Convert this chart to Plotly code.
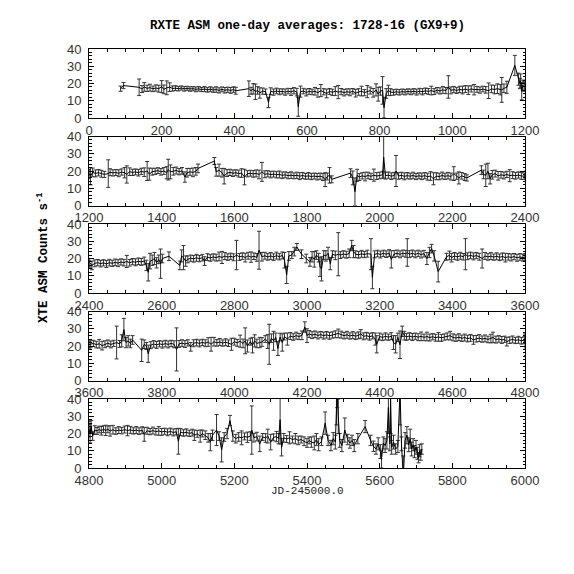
import plotly.graph_objects as go

# ---------------- data ----------------
day_1 = [87, 95, 138, 146, 152, 160, 168, 176, 184, 192, 200, 206, 214, 222, 230, 238, 246, 254, 262, 270,
         278, 286, 294, 302, 310, 318, 326, 334, 342, 350, 358, 366, 374, 382, 390, 398, 404,
         440, 446, 452, 458, 464, 470, 478, 486, 494, 500, 508, 516, 524, 532, 540, 548, 556, 564, 572, 576,
         582, 590, 598, 606, 614, 622, 630, 638, 646, 654, 662, 670, 678, 686, 694, 702, 710, 718, 726, 734,
         742, 750, 758, 766, 774, 782, 790, 796, 802, 808, 812, 818, 824, 830, 838, 846, 854, 862, 870, 878,
         886, 894, 902, 910, 918, 926, 934, 942, 950, 958, 966, 974, 982, 989, 996, 1004, 1012, 1020, 1028,
         1036, 1044, 1052, 1060, 1068, 1076, 1084, 1092, 1100, 1108, 1116, 1124, 1132, 1136, 1142, 1150,
         1172, 1182, 1186, 1188, 1191, 1194, 1198]
rate_1 = [17.0, 18.8, 17.8, 16.8, 18.0, 17.2, 17.6, 16.9, 17.4, 17.0, 18.2, 16.6, 17.5, 17.9, 17.1, 17.3, 17.0, 17.4, 16.9, 17.2,
          16.8, 17.0, 16.6, 16.9, 16.5, 16.8, 16.3, 16.7, 16.2, 16.5, 16.0, 16.6, 16.1, 16.4, 16.0, 16.5, 15.8,
          17.0, 15.8, 16.9, 15.2, 16.0, 14.5, 15.6, 15.2, 9.0, 15.5, 15.0, 15.7, 15.2, 15.4, 15.0, 15.6, 15.1, 15.8, 15.0, 6.5,
          15.3, 15.6, 14.8, 15.4, 15.1, 15.5, 14.6, 15.9, 15.2, 14.2, 15.4, 14.9, 15.6, 15.0, 15.3, 14.7, 15.2, 14.9, 15.5, 14.4,
          15.1, 15.6, 14.7, 15.3, 15.9, 14.6, 16.3, 13.8, 15.6, 16.0, 6.0, 14.2, 16.0, 15.0, 14.8, 15.2, 14.9, 15.3, 15.0, 15.4,
          15.1, 15.5, 15.0, 15.6, 15.2, 15.8, 15.4, 15.9, 15.3, 16.1, 15.7, 16.3, 15.9, 18.0, 16.0, 16.5, 15.9, 16.6, 16.2,
          16.8, 16.1, 16.9, 16.4, 16.6, 16.2, 16.8, 16.3, 15.8, 16.9, 16.5, 17.0, 16.4, 16.3, 17.2, 17.8,
          30.5, 22.5, 20.0, 21.5, 15.5, 19.0, 18.0]
err_1 = [1.5, 1.8, 4.8, 2.0, 2.5, 1.8, 2.0, 1.6, 1.8, 2.0, 3.5, 2.5, 4.0, 2.5, 1.5, 1.4, 1.3, 1.2, 1.3, 1.2,
         1.3, 1.2, 1.4, 1.3, 1.2, 1.5, 1.3, 1.4, 1.3, 1.6, 1.5, 1.4, 1.6, 1.5, 1.7, 1.6, 2.0,
         4.5, 2.0, 3.0, 4.5, 2.2, 3.0, 1.8, 1.6, 3.0, 2.0, 1.8, 1.6, 1.7, 1.5, 1.8, 1.6, 2.0, 1.8, 2.2, 5.5,
         3.2, 1.6, 2.0, 1.7, 1.6, 2.2, 2.5, 3.5, 1.8, 2.5, 1.7, 1.8, 2.6, 3.8, 1.8, 1.9, 1.7, 2.0, 1.6, 2.2,
         1.9, 2.8, 1.8, 3.5, 2.0, 2.5, 3.5, 4.0, 2.4, 8.0, 6.0, 2.8, 3.0, 2.0, 1.6, 1.5, 1.6, 1.5, 1.6, 1.5,
         1.6, 1.5, 1.7, 1.6, 1.8, 1.6, 1.7, 2.5, 1.7, 1.6, 1.8, 2.0, 1.8, 6.5, 2.0, 1.8, 1.7, 1.8, 2.2,
         2.0, 2.5, 1.8, 3.0, 1.7, 1.8, 1.6, 1.9, 4.5, 2.2, 2.5, 2.8, 3.0, 7.2, 2.5, 3.5,
         5.8, 3.5, 3.0, 4.0, 5.0, 3.0, 2.5]

day_2 = [1200, 1204, 1210, 1218, 1226, 1234, 1242, 1253, 1258, 1266, 1274, 1282, 1290, 1298, 1304, 1312, 1320,
         1328, 1336, 1344, 1352, 1360, 1366, 1374, 1382, 1390, 1398, 1406, 1414, 1418, 1424, 1432, 1440, 1448,
         1456, 1464, 1470, 1478, 1486, 1494, 1500, 1545, 1550, 1558, 1566, 1572, 1580, 1588, 1596, 1604, 1612,
         1620, 1628, 1636, 1644, 1652, 1660, 1668, 1676, 1684, 1692, 1700, 1708, 1716, 1724, 1732, 1740, 1748,
         1756, 1764, 1772, 1780, 1788, 1796, 1804, 1812, 1820, 1828, 1836, 1844, 1850, 1856, 1862, 1868,
         1920, 1926, 1932, 1938, 1944, 1952, 1960, 1968, 1976, 1984, 1992, 2000, 2008, 2011, 2016, 2024, 2032,
         2040, 2045, 2052, 2060, 2068, 2076, 2084, 2092, 2100, 2108, 2116, 2124, 2132, 2140, 2148, 2156, 2164,
         2172, 2180, 2188, 2196, 2204, 2212, 2218, 2226, 2234, 2240, 2280, 2286, 2292, 2298, 2304, 2310, 2318,
         2326, 2334, 2342, 2350, 2358, 2366, 2374, 2382, 2390, 2398]
rate_2 = [18.5, 17.0, 19.2, 18.6, 19.0, 18.4, 18.0, 18.5, 19.3, 18.9, 19.1, 18.7, 19.4, 19.0, 18.0, 19.6, 19.2,
          19.5, 19.0, 19.8, 19.3, 20.0, 18.2, 19.6, 19.8, 20.2, 19.5, 20.0, 19.0, 20.8, 19.5, 19.8, 20.3, 19.6,
          20.1, 16.5, 19.0, 19.5, 19.2, 19.8, 21.5, 25.8, 19.5, 20.5, 19.0, 17.0, 18.8, 19.2, 18.7, 19.0, 18.5,
          18.8, 16.5, 18.4, 18.7, 18.3, 18.6, 18.0, 19.5, 18.1, 18.4, 17.9, 18.2, 17.8, 18.0, 17.5, 17.8, 17.3,
          17.6, 17.2, 17.5, 17.0, 17.4, 16.9, 17.2, 16.8, 17.1, 16.7, 17.0, 16.5, 15.0, 16.8, 17.5, 15.2,
          18.8, 16.0, 8.0, 17.5, 16.5, 17.2, 16.8, 17.4, 16.9, 17.6, 17.1, 17.4, 17.8, 28.0, 17.3, 17.6, 17.0,
          17.4, 20.0, 17.1, 17.5, 16.9, 17.3, 17.0, 17.4, 16.8, 17.2, 16.9, 17.3, 16.7, 17.1, 15.5, 17.0, 16.8,
          17.4, 16.9, 17.3, 16.8, 18.5, 17.0, 16.0, 17.2, 16.5, 16.0, 20.5, 18.0, 17.5, 20.0, 15.5, 17.8, 18.5,
          17.2, 17.8, 17.4, 18.0, 17.3, 17.6, 17.2, 17.7, 17.1, 17.0]
err_2 = [2.5, 5.0, 2.5, 2.0, 1.8, 2.0, 1.8, 8.0, 2.0, 1.8, 1.7, 2.0, 1.8, 3.0, 5.0, 2.2, 1.8,
         1.7, 1.9, 1.8, 2.5, 5.5, 3.5, 2.0, 1.8, 1.7, 1.9, 2.0, 3.5, 6.0, 4.0, 2.2, 2.0, 1.8,
         1.9, 3.0, 2.5, 2.0, 2.5, 2.2, 2.5, 2.0, 2.5, 3.5, 2.5, 4.5, 2.0, 1.8, 1.9, 1.7, 2.0,
         2.5, 4.5, 1.8, 1.7, 1.9, 2.0, 2.5, 5.5, 2.0, 1.8, 1.9, 1.7, 1.8, 2.0, 1.9, 1.7, 1.8,
         1.9, 1.7, 1.8, 2.0, 1.8, 1.7, 1.9, 1.8, 1.7, 1.9, 1.8, 2.0, 4.0, 2.0, 4.5, 2.0,
         2.5, 4.0, 8.0, 3.5, 2.0, 1.8, 2.5, 1.9, 1.8, 3.5, 2.0, 1.9, 2.0, 12.0, 2.0, 1.8, 1.9,
         1.8, 9.0, 1.9, 1.8, 2.0, 1.8, 1.7, 1.9, 1.8, 1.7, 1.9, 1.8, 2.0, 2.5, 3.5, 2.0, 1.9,
         2.0, 1.8, 1.9, 2.0, 4.0, 1.8, 3.5, 1.9, 2.0, 1.8, 2.5, 2.5, 6.5, 4.5, 3.0, 2.5, 2.0,
         2.5, 1.9, 2.0, 1.8, 3.5, 2.0, 1.9, 1.8, 2.0, 1.8]

day_3 = [2402, 2408, 2416, 2424, 2432, 2440, 2448, 2456, 2464, 2472, 2480, 2488, 2496, 2504, 2512, 2520, 2528,
         2536, 2544, 2552, 2558, 2563, 2568, 2574, 2580, 2586, 2592, 2597, 2602, 2620, 2650, 2655, 2660, 2666,
         2672, 2680, 2688, 2696, 2704, 2712, 2718, 2726, 2734, 2742, 2750, 2758, 2766, 2774, 2782, 2790, 2798,
         2806, 2814, 2822, 2830, 2838, 2846, 2854, 2862, 2868, 2876, 2884, 2892, 2900, 2908, 2916, 2924, 2932,
         2938, 2944, 2950, 2958, 2965, 2972, 2985, 2998, 3008, 3014, 3020, 3026, 3032, 3036, 3040, 3046, 3052,
         3058, 3064, 3070, 3078, 3086, 3092, 3100, 3108, 3116, 3123, 3128, 3134, 3142, 3150, 3158, 3166, 3176,
         3180, 3186, 3194, 3202, 3210, 3218, 3226, 3232, 3240, 3248, 3256, 3264, 3272, 3276, 3282, 3290, 3298,
         3306, 3314, 3322, 3330, 3337, 3343, 3350, 3361, 3384, 3392, 3398, 3406, 3414, 3422, 3430, 3436, 3442,
         3450, 3458, 3466, 3474, 3482, 3490, 3498, 3506, 3514, 3522, 3530, 3538, 3546, 3554, 3562, 3570, 3578,
         3586, 3594, 3600]
rate_3 = [17.5, 16.0, 17.2, 17.6, 17.0, 17.5, 16.8, 17.6, 17.2, 17.8, 17.3, 18.0, 17.6, 18.3, 17.5, 18.2, 17.8,
          18.4, 18.0, 18.6, 16.0, 12.0, 18.5, 19.0, 20.0, 17.5, 19.5, 17.0, 20.0, 21.3, 16.0, 21.5, 20.5, 18.5,
          19.5, 20.2, 19.8, 20.4, 19.9, 20.5, 18.5, 20.8, 20.3, 20.9, 20.5, 21.2, 20.6, 21.4, 20.8, 21.3, 20.7,
          22.0, 20.9, 21.4, 20.5, 21.6, 20.8, 21.3, 20.6, 24.8, 21.0, 21.6, 20.9, 21.5, 20.8, 21.7, 21.0, 21.8,
          19.0, 10.5, 21.5, 22.0, 24.0, 26.7, 22.5, 20.0, 18.0, 21.0, 19.5, 22.0, 20.5, 15.0, 14.0, 22.0, 21.5,
          23.0, 17.0, 22.5, 21.8, 22.5, 22.0, 22.6, 22.2, 23.0, 27.5, 24.0, 22.5, 22.1, 22.7, 22.3, 22.8, 22.5,
          9.0, 22.4, 22.9, 22.3, 23.0, 22.5, 23.1, 19.5, 22.6, 23.0, 22.4, 23.1, 22.7, 23.5, 22.5, 23.0, 22.4,
          23.0, 22.3, 22.8, 20.0, 23.5, 25.7, 21.5, 12.4, 21.0, 21.8, 20.5, 21.5, 20.9, 21.6, 21.0, 22.5, 21.3,
          21.8, 21.2, 21.7, 21.0, 20.0, 21.5, 20.9, 21.4, 20.8, 21.3, 20.7, 21.2, 20.5, 21.0, 20.6, 21.1, 20.4,
          20.9, 20.5, 20.8]
err_3 = [2.5, 2.5, 2.0, 1.8, 1.9, 1.8, 2.0, 1.9, 1.8, 1.9, 2.0, 1.8, 1.9, 3.5, 1.9, 1.8, 2.0,
         1.9, 2.0, 2.2, 3.0, 5.0, 4.5, 3.0, 3.5, 3.0, 2.5, 8.5, 2.5, 2.5, 2.5, 3.5, 7.0, 3.0,
         2.0, 1.8, 1.9, 2.0, 1.8, 1.9, 2.5, 2.0, 1.9, 1.8, 2.0, 2.5, 3.5, 2.0, 1.9, 1.8, 2.0,
         8.5, 2.0, 1.9, 2.5, 2.0, 3.0, 1.9, 2.2, 11.0, 2.5, 2.0, 1.9, 2.0, 1.9, 2.0, 1.8, 2.0,
         4.5, 5.0, 2.5, 2.0, 2.5, 2.0, 2.5, 2.5, 2.5, 3.0, 4.5, 2.5, 2.5, 5.5, 7.0, 2.5, 3.0,
         3.5, 3.5, 2.0, 2.5, 12.5, 2.0, 1.9, 2.0, 2.5, 3.0, 3.5, 2.0, 1.9, 2.0, 1.8, 2.0, 9.0,
         6.5, 2.0, 1.9, 2.0, 1.8, 1.9, 2.0, 5.0, 2.0, 1.9, 2.0, 1.8, 2.0, 8.0, 2.0, 1.9, 2.0,
         1.8, 2.0, 1.9, 3.5, 3.0, 2.5, 3.0, 6.0, 2.0, 2.5, 2.5, 2.0, 1.9, 2.0, 1.9, 9.0, 2.0,
         1.9, 2.0, 1.8, 2.0, 5.5, 2.0, 1.9, 2.0, 1.8, 2.0, 1.9, 2.0, 2.5, 1.9, 2.0, 1.8, 2.0,
         1.9, 2.0, 2.0]

day_4 = [3604, 3612, 3620, 3628, 3636, 3644, 3652, 3660, 3668, 3676, 3684, 3690, 3696, 3702, 3708, 3714, 3720,
         3745, 3752, 3758, 3763, 3770, 3778, 3786, 3794, 3802, 3810, 3818, 3826, 3834, 3841, 3848, 3856, 3864,
         3872, 3880, 3888, 3896, 3904, 3912, 3920, 3928, 3936, 3944, 3952, 3960, 3968, 3976, 3984, 3992, 4000,
         4008, 4016, 4024, 4030, 4036, 4044, 4050, 4056, 4062, 4070, 4076, 4085, 4092, 4096, 4102, 4108, 4114,
         4120, 4126, 4132, 4138, 4146, 4154, 4162, 4170, 4178, 4186, 4194, 4200, 4206, 4214, 4222, 4230, 4238,
         4246, 4254, 4262, 4270, 4278, 4286, 4294, 4302, 4310, 4318, 4326, 4334, 4342, 4348, 4356, 4364, 4372,
         4380, 4388, 4392, 4400, 4408, 4416, 4424, 4432, 4438, 4444, 4450, 4456, 4462, 4468, 4474, 4482, 4490,
         4498, 4506, 4514, 4522, 4530, 4538, 4546, 4554, 4562, 4570, 4578, 4586, 4594, 4602, 4610, 4618, 4626,
         4634, 4642, 4650, 4658, 4666, 4674, 4682, 4690, 4698, 4706, 4712, 4720, 4728, 4736, 4744, 4750, 4758,
         4766, 4774, 4782, 4790, 4798]
rate_4 = [21.0, 21.5, 20.8, 21.3, 20.2, 21.0, 21.6, 20.9, 21.5, 22.0, 21.2, 23.0, 29.5, 22.0, 23.0, 21.5, 23.5,
          17.5, 21.0, 20.0, 15.5, 20.5, 21.2, 20.6, 21.3, 20.8, 21.4, 20.9, 21.5, 21.0, 18.0, 21.2, 21.7, 21.1,
          21.8, 19.5, 21.6, 22.0, 21.5, 22.1, 21.6, 22.3, 21.0, 22.5, 21.8, 22.3, 21.7, 22.2, 21.6, 21.0, 22.5,
          21.8, 22.8, 21.5, 23.0, 20.0, 22.5, 20.5, 23.0, 21.5, 22.0, 22.3, 24.0, 22.6, 21.0, 24.5, 23.0, 25.0,
          18.5, 25.2, 22.0, 25.5, 24.0, 25.8, 25.2, 26.0, 25.5, 26.2, 31.0, 26.0, 27.0, 26.3, 26.8, 26.1, 26.6,
          26.0, 26.5, 25.9, 26.4, 26.8, 27.3, 26.6, 26.0, 26.5, 25.8, 26.3, 25.7, 26.2, 27.0, 25.6, 26.0, 25.4,
          25.9, 24.0, 21.0, 25.5, 25.0, 25.6, 25.1, 25.7, 22.0, 21.0, 25.0, 20.7, 28.5, 26.0, 25.3, 25.8, 25.2,
          25.7, 25.1, 25.6, 25.0, 25.5, 24.9, 25.4, 24.8, 25.3, 24.7, 25.2, 25.6, 26.0, 25.0, 24.6, 25.1, 24.5,
          24.9, 24.3, 24.7, 23.5, 24.2, 24.6, 24.0, 24.4, 23.8, 24.3, 25.0, 23.7, 24.1, 23.5, 23.9, 22.5, 23.4,
          23.8, 23.2, 23.6, 23.0, 23.4]
err_4 = [2.0, 1.8, 1.9, 2.5, 2.5, 2.0, 1.9, 2.0, 1.8, 9.5, 2.0, 3.5, 6.5, 3.0, 3.0, 2.5, 2.5,
         6.5, 2.5, 2.0, 5.0, 2.0, 1.9, 2.0, 1.8, 2.0, 1.9, 2.0, 1.8, 2.0, 12.5, 2.0, 1.9, 2.0,
         1.8, 2.5, 2.0, 1.9, 2.0, 1.8, 2.0, 2.5, 4.0, 2.5, 1.9, 2.0, 1.8, 2.0, 1.9, 3.5, 2.0,
         2.0, 3.5, 2.5, 7.5, 3.5, 2.0, 4.5, 3.5, 2.5, 3.0, 2.5, 2.0, 4.0, 11.6, 2.5, 5.5, 2.5,
         4.0, 2.2, 5.0, 2.0, 3.5, 2.0, 1.9, 2.0, 1.8, 2.5, 3.0, 4.0, 2.0, 2.0, 1.9, 2.0, 1.8,
         2.0, 1.9, 2.0, 1.8, 2.0, 2.5, 2.0, 1.9, 2.0, 1.8, 2.0, 1.9, 2.0, 2.5, 2.0, 1.9, 2.0,
         1.8, 3.5, 5.0, 2.0, 1.9, 2.0, 1.8, 2.0, 4.0, 5.0, 2.5, 8.0, 3.0, 2.5, 2.0, 1.9, 2.0,
         1.8, 2.0, 2.5, 1.9, 2.5, 2.0, 1.8, 2.0, 2.5, 2.0, 1.8, 2.0, 2.5, 2.0, 1.9, 2.0, 1.8,
         2.0, 1.9, 2.0, 2.5, 1.9, 2.0, 1.8, 2.0, 1.9, 2.5, 3.0, 2.0, 1.9, 2.0, 1.8, 2.5, 1.9,
         2.0, 1.8, 2.0, 1.9, 2.0]

day_5 = [4800, 4803, 4806, 4810, 4816, 4822, 4828, 4834, 4840, 4846, 4852, 4858, 4866, 4874, 4882, 4890, 4898,
         4906, 4914, 4922, 4930, 4938, 4946, 4952, 4960, 4968, 4976, 4984, 4992, 5000, 5008, 5016, 5024, 5032,
         5040, 5046, 5052, 5060, 5068, 5076, 5084, 5090, 5098, 5106, 5112, 5120, 5128, 5134, 5140, 5151, 5158,
         5165, 5172, 5180, 5188, 5196, 5204, 5212, 5220, 5228, 5236, 5244, 5248, 5254, 5262, 5270, 5278, 5286,
         5292, 5300, 5308, 5316, 5322, 5326, 5330, 5336, 5344, 5352, 5360, 5368, 5376, 5384, 5392, 5400, 5406,
         5412, 5420, 5426, 5432, 5440, 5450, 5458, 5466, 5472, 5478, 5481, 5483, 5486, 5490, 5496, 5504, 5512,
         5518, 5524, 5530, 5540, 5560, 5575, 5583, 5590, 5596, 5602, 5605, 5610, 5615, 5620, 5624, 5628, 5630,
         5633, 5638, 5644, 5650, 5656, 5660, 5665, 5670, 5675, 5680, 5684, 5688, 5692, 5696, 5700, 5704, 5707,
         5710, 5713, 5716]
rate_5 = [22.5, 20.0, 24.0, 18.5, 22.0, 21.5, 22.3, 21.6, 22.5, 21.8, 22.4, 21.5, 22.2, 21.4, 22.0, 21.6, 22.3,
          21.7, 22.1, 21.5, 22.0, 21.4, 21.9, 19.5, 21.6, 21.1, 21.7, 21.0, 21.5, 20.9, 21.3, 20.7, 21.2, 20.6,
          21.0, 15.5, 20.8, 20.3, 20.7, 20.1, 20.5, 19.0, 19.8, 18.5, 20.0, 19.0, 17.5, 15.0, 19.0, 22.0, 18.5,
          10.5, 18.0, 20.0, 27.5, 18.5, 17.0, 18.0, 17.5, 18.3, 17.8, 18.5, 22.0, 17.6, 18.2, 14.0, 18.0, 17.4,
          18.5, 15.0, 17.8, 18.2, 17.0, 28.0, 12.0, 17.5, 16.8, 17.5, 16.5, 17.0, 16.0, 16.5, 15.5, 14.5, 16.0,
          15.0, 14.5, 16.5, 13.5, 15.5, 26.0, 16.0, 13.0, 17.0, 15.0, 35.0, 45.0, 30.0, 16.0, 13.0, 22.0, 16.5,
          14.5, 16.0, 13.0, 17.0, 24.0, 16.0, 12.6, 11.0, 14.0, 9.5, 5.0, 14.5, 13.0, 16.0, 35.0, 14.0, 40.0,
          12.0, 15.0, 11.0, 12.5, 45.0, 14.0, -5.0, 16.0, 19.0, 13.5, 17.0, 11.0, 13.5, 9.5, 12.0, 8.5, 6.0,
          10.0, 7.5, 11.0]
err_5 = [4.5, 5.5, 3.5, 2.5, 2.5, 2.0, 1.9, 2.5, 2.0, 3.0, 2.0, 3.0, 2.5, 1.9, 2.0, 1.8, 2.0,
         3.0, 2.0, 1.8, 2.0, 1.9, 2.0, 4.0, 2.0, 1.8, 2.0, 1.9, 2.5, 2.0, 1.8, 2.0, 1.9, 2.0,
         1.8, 7.5, 2.0, 1.9, 2.0, 1.8, 2.0, 3.0, 2.0, 3.5, 2.0, 2.5, 2.5, 5.0, 3.0, 9.0, 2.5,
         7.0, 2.5, 3.0, 3.0, 3.0, 2.5, 2.5, 4.0, 2.0, 3.0, 2.5, 14.0, 2.5, 2.5, 4.5, 2.0, 2.5,
         4.0, 4.5, 2.0, 3.0, 3.0, 14.0, 5.0, 2.5, 2.0, 3.5, 2.0, 3.0, 2.5, 2.0, 2.5, 2.5, 2.0,
         3.0, 4.0, 3.5, 3.5, 2.5, 6.5, 3.0, 3.0, 3.5, 4.0, 10.0, 10.0, 10.0, 4.0, 3.5, 7.0, 3.0,
         3.0, 3.0, 3.5, 3.0, 3.5, 3.0, 3.0, 3.0, 3.5, 4.0, 5.0, 3.5, 4.0, 5.0, 15.0, 4.0, 20.0,
         4.0, 4.0, 3.0, 3.5, 20.0, 4.0, 12.0, 4.5, 5.0, 4.0, 5.5, 4.0, 3.5, 3.5, 4.0, 3.5, 3.0,
         3.5, 3.0, 3.0]

panel_starts = [0, 1200, 2400, 3600, 4800]
panel_width_days = 1200
y_ticks = [0, 10, 20, 30, 40]

title_text = "RXTE ASM one-day averages: 1728-16 (GX9+9)"
ylabel_text = "XTE ASM Counts s<sup>-1</sup>"
xlabel_text = "JD-245000.0"

# ---------------- figure ----------------
days = day_1 + day_2 + day_3 + day_4 + day_5
rates = rate_1 + rate_2 + rate_3 + rate_4 + rate_5
errs = err_1 + err_2 + err_3 + err_4 + err_5

W = H = 574
OFF = 8  # page body margin offset
x_left, x_right = 89 - OFF, 525 - OFF
tops = [49 - OFF, 136.5 - OFF, 224 - OFF, 311.5 - OFF, 399 - OFF]
panel_h = 69

fig = go.Figure()
tick_font = dict(family="Liberation Sans, Arial, Helvetica, sans-serif", size=13, color="#333")
layout = dict(width=W, height=H, autosize=False,
              margin=dict(l=0, r=0, t=0, b=0, pad=0, autoexpand=False),
              paper_bgcolor="white", plot_bgcolor="white", showlegend=False)

for i, x0 in enumerate(panel_starts):
    n = "" if i == 0 else str(i + 1)
    fig.add_trace(go.Scatter(
        x=days, y=rates, mode="lines",
        line=dict(color="black", width=1),
        error_y=dict(type="data", array=errs, visible=True, color="#333", thickness=1, width=2),
        xaxis="x" + n, yaxis="y" + n, hoverinfo="skip"))
    top = tops[i]
    bot = top + panel_h
    layout["xaxis" + n] = dict(
        domain=[x_left / W, x_right / W], range=[x0, x0 + panel_width_days],
        anchor="y" + n, tickmode="linear", tick0=x0, dtick=200, automargin=False,
        ticks="inside", ticklen=5, tickwidth=1, tickcolor="black",
        minor=dict(dtick=50, ticks="inside", ticklen=3, tickcolor="black", showgrid=False),
        showline=True, linecolor="black", linewidth=1, mirror="ticks",
        showgrid=False, zeroline=False, tickfont=tick_font, ticklabelstandoff=0)
    layout["yaxis" + n] = dict(
        domain=[1 - bot / H, 1 - top / H], range=[0, 40], anchor="x" + n, automargin=False,
        tickvals=y_ticks, ticks="inside", ticklen=5, tickwidth=1, tickcolor="black",
        minor=dict(dtick=2, ticks="inside", ticklen=2.5, tickcolor="black", showgrid=False),
        showline=True, linecolor="black", linewidth=1, mirror="ticks",
        showgrid=False, zeroline=False, tickfont=tick_font, ticklabelstandoff=4)

mono = "Liberation Mono, Courier New, monospace"
layout["annotations"] = [
    dict(text="<b>" + title_text + "</b>", x=(x_left + x_right) / 2 / W, y=1 - (26 - OFF) / H,
         xref="paper", yref="paper", showarrow=False, xanchor="center", yanchor="middle",
         font=dict(family=mono, size=12.5, color="black")),
    dict(text="<b>" + ylabel_text + "</b>", x=(43 - OFF) / W, y=1 - (258 - OFF) / H, textangle=-90,
         xref="paper", yref="paper", showarrow=False, xanchor="center", yanchor="middle",
         font=dict(family=mono, size=12.5, color="black")),
    dict(text=xlabel_text, x=(x_left + x_right) / 2 / W, y=1 - (491 - OFF) / H,
         xref="paper", yref="paper", showarrow=False, xanchor="center", yanchor="middle",
         font=dict(family=mono, size=11, color="#222")),
]
fig.update_layout(**layout)
fig.write_html("out.html")
